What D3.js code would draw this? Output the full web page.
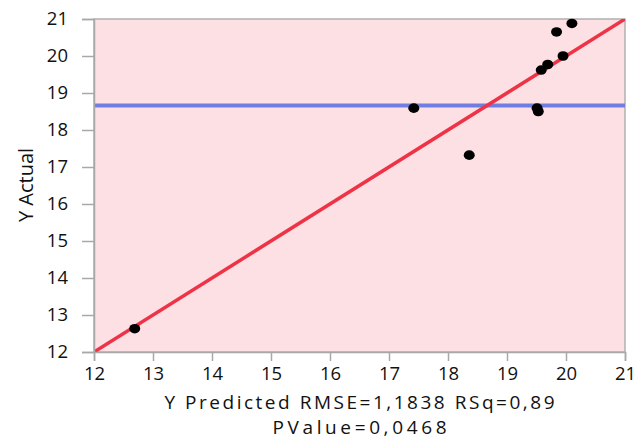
<!DOCTYPE html>
<html><head><meta charset="utf-8">
<script src="https://cdn.jsdelivr.net/npm/d3@7"></script>
<style>
body{margin:0;background:#fff;}
text{font-family:"Open Sans","Noto Sans",sans-serif;}
</style></head>
<body><svg id="c" width="635" height="439"></svg>
<script>
const predicted = [12.69, 17.42, 18.36, 19.51, 19.53, 19.58, 19.69, 19.84, 19.95, 20.1];
const actual    = [12.63, 18.59, 17.32, 18.59, 18.5, 19.62, 19.77, 20.65, 20.0, 20.88];
const xTicks = [12,13,14,15,16,17,18,19,20,21];
const yTicks = [12,13,14,15,16,17,18,19,20,21];
const meanActual = 18.66;
const xTitle = "Y Predicted RMSE=1,1838 RSq=0,89";
const xTitle2 = "PValue=0,0468";
const yTitle = "Y Actual";

const svg = d3.select("#c");
const m = {l:94, r:625, t:19, b:352};
const x = d3.scaleLinear().domain([12,21]).range([m.l, m.r]);
const y = d3.scaleLinear().domain([12,21]).range([m.b, m.t]);

svg.append("rect").attr("x",m.l).attr("y",m.t).attr("width",m.r-m.l).attr("height",m.b-m.t)
  .attr("fill","#fde0e4").attr("stroke","#b0b0b0").attr("stroke-width",1.5);

svg.append("clipPath").attr("id","cp").append("rect")
  .attr("x",m.l).attr("y",m.t).attr("width",m.r-m.l).attr("height",m.b-m.t);
const g = svg.append("g").attr("clip-path","url(#cp)");

g.append("line").attr("x1",x(12)).attr("x2",x(21)).attr("y1",y(meanActual)).attr("y2",y(meanActual))
  .attr("stroke","#6f7ee0").attr("stroke-width",4);
g.append("line").attr("x1",x(12)).attr("y1",y(12)).attr("x2",x(21)).attr("y2",y(21))
  .attr("stroke","#ef3347").attr("stroke-width",3.5);

svg.selectAll("ellipse.pt").data(predicted).enter().append("ellipse").attr("class","pt")
  .attr("cx",(d)=>x(d)).attr("cy",(d,i)=>y(actual[i])).attr("rx",5.5).attr("ry",4.8).attr("fill","#000");

const xa = svg.append("g").attr("transform",`translate(0,${m.b})`)
  .call(d3.axisBottom(x).tickValues(xTicks).tickFormat(d3.format("d")).tickSize(9).tickPadding(6));
const ya = svg.append("g").attr("transform",`translate(${m.l},0)`)
  .call(d3.axisLeft(y).tickValues(yTicks).tickFormat(d3.format("d")).tickSize(12).tickPadding(14));
[xa,ya].forEach(a=>{
  a.select(".domain").attr("stroke","#a8a8a8").attr("stroke-width",1.5);
  a.selectAll(".tick line").attr("stroke","#a8a8a8").attr("stroke-width",1.5);
  a.selectAll(".tick text").attr("fill","#111").style("font-size","18.5px").style("font-family","'Open Sans','Noto Sans',sans-serif");
});

svg.append("text").attr("x",(m.l+m.r)/2).attr("y",409).attr("text-anchor","middle")
  .attr("textLength",390).attr("lengthAdjust","spacing")
  .style("font-size","19px").attr("fill","#111").text(xTitle);
svg.append("text").attr("x",(m.l+m.r)/2).attr("y",434).attr("text-anchor","middle")
  .attr("textLength",174).attr("lengthAdjust","spacing")
  .style("font-size","19px").attr("fill","#111").text(xTitle2);
svg.append("text").attr("transform","translate(33,185) rotate(-90)").attr("text-anchor","middle")
  .style("font-size","20px").attr("fill","#111").text(yTitle);
</script></body></html>
